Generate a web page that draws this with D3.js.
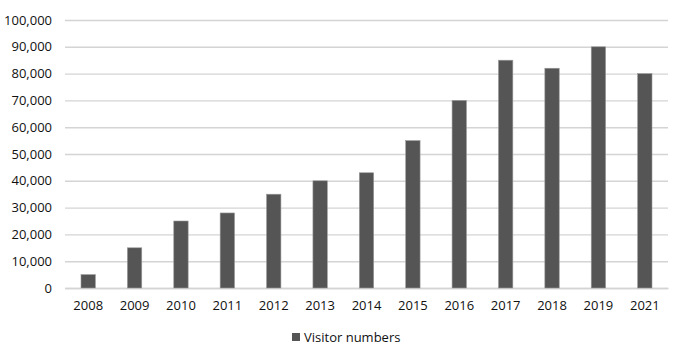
<!DOCTYPE html>
<html><head><meta charset="utf-8">
<script src="https://cdn.jsdelivr.net/npm/d3@7"></script>
<style>body{margin:0;background:#fff;}svg{display:block;}</style>
</head><body><svg id="c" width="675" height="360"></svg>
<script>
const categories = ["2008","2009","2010","2011","2012","2013","2014","2015","2016","2017","2018","2019","2021"];
const visitorValues = [5000,15000,25000,28000,35000,40000,43000,55000,70000,85000,82000,90000,80000];
const yTicks = [0,10000,20000,30000,40000,50000,60000,70000,80000,90000,100000];
const seriesName = "Visitor numbers";

const svg = d3.select("#c");
const m = {l:65, r:7, t:20, b:72};
const W = 675, H = 360;
const x = d3.scaleBand().domain(categories).range([m.l, W - m.r]).paddingInner(0.69).paddingOuter(0.345);
const y = d3.scaleLinear().domain([0,100000]).range([H - m.b, m.t]);
const font = "'Open Sans', 'Liberation Sans', sans-serif";

const yAxis = svg.append("g").attr("transform", `translate(${m.l},0)`)
  .call(d3.axisLeft(y).tickValues(yTicks).tickSize(-(W - m.l - m.r)).tickPadding(13).tickFormat(d3.format(",")));
yAxis.select(".domain").remove();
yAxis.selectAll("line").attr("stroke", "#d4d4d4").attr("stroke-width", 1.4);
yAxis.selectAll("text").attr("fill", "#111").style("font-family", font).style("font-size", "13px");

const xAxis = svg.append("g").attr("transform", `translate(0,${H - m.b})`)
  .call(d3.axisBottom(x).tickSize(0).tickPadding(13));
xAxis.select(".domain").attr("stroke", "#d4d4d4").attr("stroke-width", 1.4);
xAxis.selectAll("text").attr("fill", "#111").style("font-family", font).style("font-size", "13px");

svg.append("g").selectAll("rect").data(categories).join("rect")
  .attr("x", d => x(d)).attr("width", x.bandwidth())
  .attr("y", (d,i) => y(visitorValues[i])).attr("height", (d,i) => y(0) - y(visitorValues[i]))
  .attr("fill", "#555555").attr("stroke", "#9a9a9a").attr("stroke-width", 0.6);

const lg = svg.append("g").attr("transform", "translate(292,333)");
lg.append("rect").attr("x", 0).attr("y", 0).attr("width", 8).attr("height", 8).attr("fill", "#555555");
lg.append("text").attr("x", 12).attr("y", 9).text(seriesName).attr("fill", "#111")
  .style("font-family", font).style("font-size", "13px");
</script></body></html>
